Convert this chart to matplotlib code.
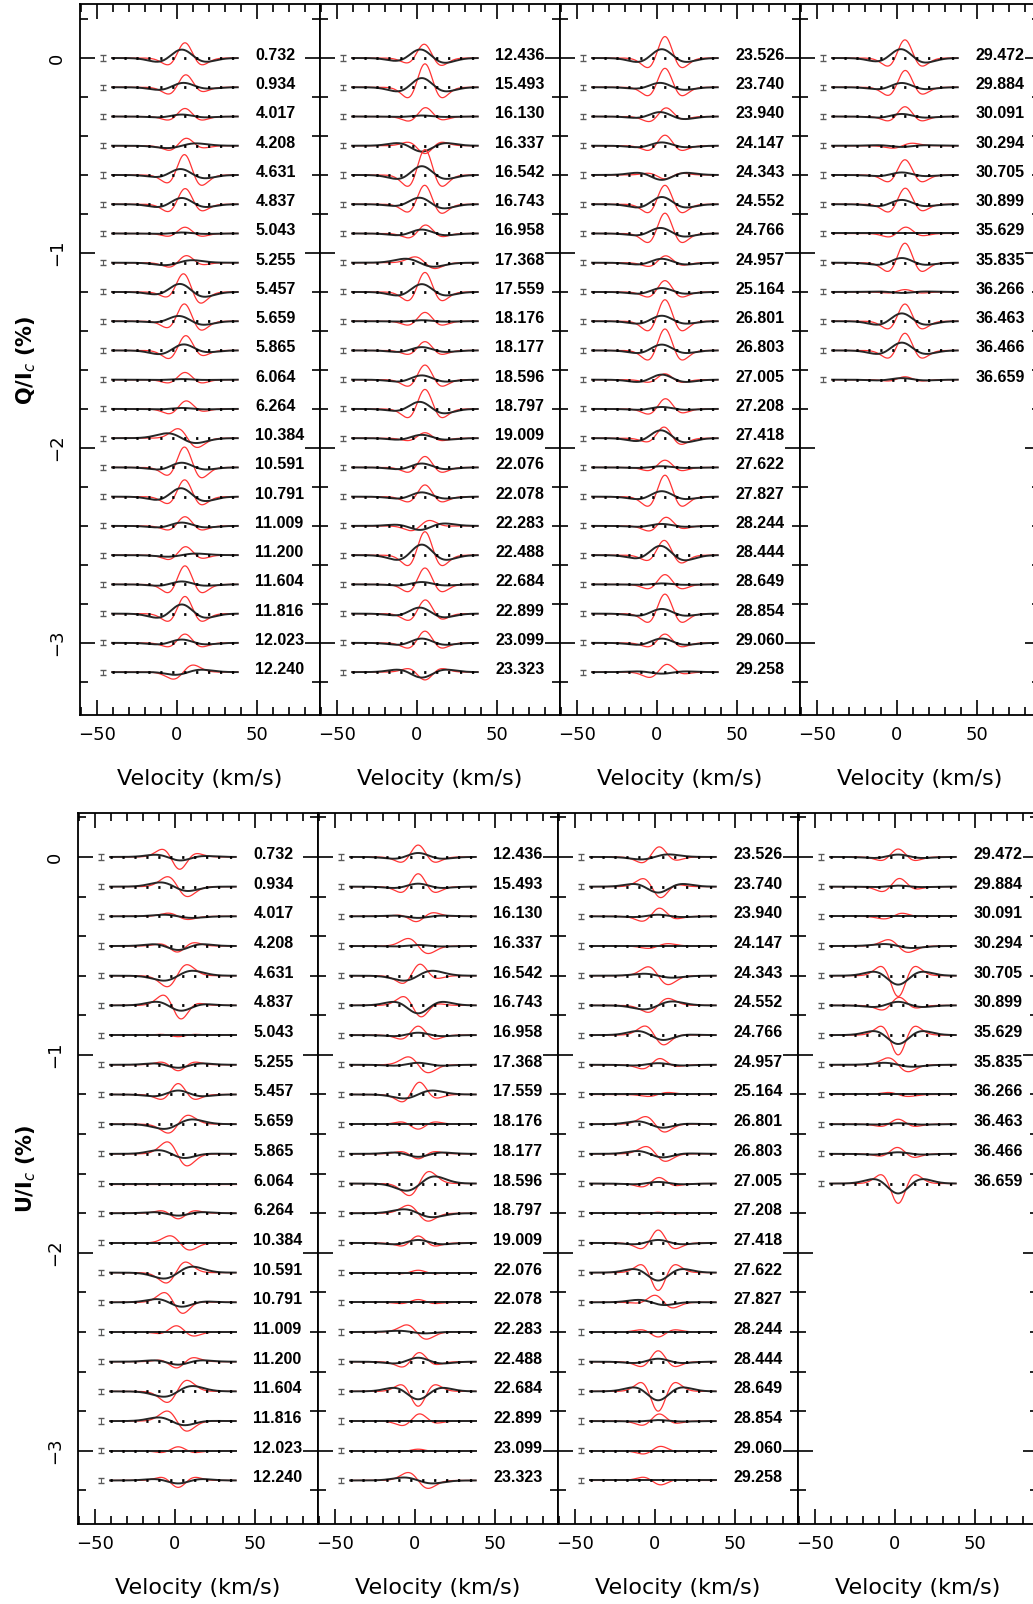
import matplotlib.pyplot as plt
import numpy as np
from matplotlib.ticker import MultipleLocator

# observation dates (one label per profile), split into 4 columns
dates = [0.732, 0.934, 4.017, 4.208, 4.631, 4.837, 5.043, 5.255, 5.457, 5.659, 5.865,
         6.064, 6.264, 10.384, 10.591, 10.791, 11.009, 11.200, 11.604, 11.816, 12.023, 12.240,
         12.436, 15.493, 16.130, 16.337, 16.542, 16.743, 16.958, 17.368, 17.559, 18.176, 18.177,
         18.596, 18.797, 19.009, 22.076, 22.078, 22.283, 22.488, 22.684, 22.899, 23.099, 23.323,
         23.526, 23.740, 23.940, 24.147, 24.343, 24.552, 24.766, 24.957, 25.164, 26.801, 26.803,
         27.005, 27.208, 27.418, 27.622, 27.827, 28.244, 28.444, 28.649, 28.854, 29.060, 29.258,
         29.472, 29.884, 30.091, 30.294, 30.705, 30.899, 35.629, 35.835, 36.266, 36.463, 36.466,
         36.659]
col_sizes = [22, 22, 22, 12]

# Stokes Q: amplitudes (%) of symmetric / antisymmetric parts, model (red) and observed (black)
q_mod_sym = [0.078, 0.063, 0.041, 0.037, 0.104, 0.080, 0.032, 0.035, 0.090, 0.088, 0.075,
             0.037, 0.040, 0.020, 0.104, 0.086, 0.047, 0.043, 0.095, 0.088, 0.045, 0.010,
             0.070, 0.120, 0.045, -0.040, 0.130, 0.097, 0.043, 0.000, 0.100, 0.045, 0.045,
             0.075, 0.100, 0.028, 0.056, 0.060, 0.020, 0.120, 0.084, 0.070, 0.060, -0.040,
             0.110, 0.097, 0.043, 0.054, -0.020, 0.097, 0.104, 0.035, 0.058, 0.110, 0.110,
             0.030, 0.052, 0.056, 0.037, 0.110, 0.043, 0.075, 0.050, 0.100, 0.045, 0.037,
             0.093, 0.086, 0.050, 0.005, 0.078, 0.082, 0.032, 0.100, 0.012, 0.088, 0.088, 0.015]
q_mod_asym = [0.0, -0.010, 0.0, -0.010, 0.010, -0.003, 0.0, -0.010, 0.025, 0.010, -0.012,
              0.0, -0.010, 0.045, 0.010, 0.005, 0.0, -0.005, 0.0, 0.0, 0.0, -0.035,
              0.010, 0.0, -0.005, 0.0, 0.0, 0.005, -0.005, 0.030, 0.0, 0.0, 0.0,
              0.0, 0.0, 0.0, 0.0, 0.0, -0.020, 0.0, 0.0, -0.005, 0.0, 0.0,
              0.0, 0.0, -0.010, 0.0, 0.0, 0.0, 0.0, -0.005, 0.0, 0.0, 0.0,
              0.0, -0.005, 0.010, 0.0, 0.0, -0.010, 0.010, 0.0, 0.0, 0.0, -0.015,
              0.0, -0.005, 0.0, -0.012, 0.0, -0.005, -0.005, 0.0, 0.0, 0.0, 0.0, 0.0]
q_obs_sym = [0.043, 0.022, 0.010, 0.000, 0.030, 0.032, 0.005, 0.005, 0.040, 0.025, 0.030,
             0.003, 0.005, 0.000, 0.024, 0.043, 0.017, 0.000, 0.015, 0.047, 0.017, -0.010,
             0.043, 0.047, 0.005, -0.030, 0.045, 0.032, 0.020, -0.005, 0.040, 0.005, 0.017,
             0.022, 0.035, 0.017, 0.020, 0.022, -0.020, 0.054, 0.012, 0.030, 0.022, -0.028,
             0.045, 0.022, 0.022, 0.017, -0.025, 0.037, 0.028, 0.020, 0.020, 0.028, 0.030,
             0.026, 0.010, 0.040, 0.006, 0.028, 0.010, 0.047, 0.005, 0.024, 0.022, -0.008,
             0.045, 0.022, 0.013, -0.006, 0.013, 0.022, 0.000, 0.024, -0.005, 0.040, 0.040, 0.008]
q_obs_asym = [0.0, -0.005, 0.0, -0.012, 0.005, 0.0, 0.0, -0.012, 0.010, 0.010, -0.008,
              0.0, 0.0, 0.025, 0.0, 0.005, 0.0, -0.008, 0.0, 0.0, 0.0, -0.010,
              0.008, 0.0, 0.0, 0.0, 0.0, 0.010, 0.0, 0.020, 0.0, 0.0, 0.0,
              0.0, 0.010, 0.0, 0.0, 0.0, -0.005, 0.0, 0.0, 0.008, 0.0, 0.0,
              0.0, 0.005, 0.005, 0.0, 0.0, 0.0, 0.005, 0.0, 0.0, 0.0, 0.0,
              0.0, 0.0, 0.005, 0.0, 0.0, 0.0, 0.008, 0.0, 0.0, 0.0, 0.0,
              0.005, 0.0, 0.0, 0.0, 0.0, 0.0, 0.0, 0.0, 0.0, 0.0, 0.0, 0.0]

# Stokes U
u_mod_sym = [-0.060, -0.005, 0.000, -0.030, 0.010, -0.060, -0.008, -0.030, 0.055, 0.000, -0.010,
             0.000, -0.028, 0.010, 0.020, -0.040, 0.030, -0.030, 0.010, -0.010, 0.020, -0.035,
             0.060, 0.065, -0.025, 0.000, 0.055, -0.050, 0.045, 0.000, 0.060, -0.025, -0.025,
             -0.010, 0.000, 0.035, 0.012, 0.014, -0.010, 0.045, -0.075, 0.035, 0.008, 0.000,
             0.050, -0.050, 0.040, 0.000, 0.000, 0.000, -0.030, 0.030, 0.000, -0.020, -0.015,
             0.030, 0.005, 0.065, -0.090, 0.030, -0.025, 0.055, -0.100, 0.035, 0.020, -0.020,
             0.040, 0.040, 0.012, 0.000, -0.105, 0.040, -0.100, 0.000, 0.000, 0.025, 0.032, -0.100]
u_mod_asym = [0.017, 0.050, 0.016, -0.005, -0.055, 0.034, 0.0, 0.0, 0.0, -0.045, 0.060,
              0.0, 0.0, 0.035, -0.050, 0.040, 0.010, -0.010, -0.055, 0.050, 0.0, 0.0,
              0.0, 0.0, -0.010, 0.038, -0.020, 0.030, 0.0, 0.040, -0.015, 0.0, 0.0,
              -0.060, 0.040, 0.0, 0.0, 0.0, 0.035, -0.010, 0.0, -0.010, 0.0, 0.040,
              -0.010, 0.025, -0.010, -0.012, 0.045, -0.035, 0.040, -0.010, -0.010, 0.035, 0.035,
              -0.005, 0.0, 0.0, 0.0, 0.020, 0.0, 0.0, 0.0, -0.008, -0.010, 0.010,
              0.0, -0.010, -0.010, 0.032, 0.0, -0.008, 0.0, 0.035, 0.010, 0.0, 0.005, 0.0]
u_obs_sym = [-0.017, -0.010, 0.0, -0.020, 0.0, -0.025, 0.0, -0.015, 0.020, 0.0, -0.015,
             0.0, -0.012, 0.0, 0.0, -0.020, 0.0, -0.015, 0.0, -0.015, 0.0, -0.015,
             0.020, 0.015, -0.008, 0.005, 0.0, -0.040, 0.012, 0.010, 0.0, 0.0, -0.015,
             -0.010, 0.0, 0.015, 0.0, 0.0, -0.005, 0.020, -0.040, 0.0, 0.0, 0.0,
             0.005, -0.030, 0.008, 0.0, 0.0, 0.0, -0.020, 0.008, 0.0, -0.015, -0.015,
             0.008, 0.0, 0.015, -0.040, -0.010, 0.0, 0.015, -0.045, 0.005, 0.0, 0.0,
             0.012, 0.005, 0.0, 0.0, -0.045, 0.018, -0.045, 0.0, 0.0, 0.005, 0.008, -0.050]
u_obs_asym = [0.005, 0.020, 0.008, 0.0, -0.025, 0.010, 0.0, 0.0, 0.0, -0.024, 0.015,
              0.0, 0.0, 0.0, -0.030, 0.010, 0.0, 0.0, -0.027, 0.015, 0.0, 0.0,
              0.0, 0.0, 0.0, 0.0, -0.025, 0.0, 0.0, 0.0, -0.020, 0.0, 0.0,
              -0.035, 0.020, 0.0, 0.0, 0.0, 0.005, 0.0, 0.0, 0.0, 0.0, 0.015,
              -0.012, 0.0, 0.0, 0.0, 0.010, -0.020, 0.015, 0.0, 0.0, 0.010, 0.010,
              0.0, 0.0, 0.0, 0.0, 0.010, 0.0, 0.0, 0.0, 0.0, 0.0, 0.0,
              0.0, 0.0, 0.0, 0.010, 0.0, 0.0, 0.0, 0.010, 0.0, 0.0, 0.0, 0.0]

step = 0.15
vel = np.linspace(-40.5, 38, 300)


def mexhat(v, c, w):
    u = (v - c) / w
    return (1 - u ** 2) * np.exp(-u ** 2 / 2)


def dgauss(v, c, w):
    u = (v - c) / w
    return -u * np.exp((1 - u ** 2) / 2)


fig = plt.figure(figsize=(10.33, 16.04), dpi=100)
W, H = 1033.0, 1604.0

panels = [
    # name, arrays, left px, top px, ylim, model centre, obs centre
    ('Q', q_mod_sym, q_mod_asym, q_obs_sym, q_obs_asym, 80, 4, (-3.37, 0.277), 5.0, 3.0),
    ('U', u_mod_sym, u_mod_asym, u_obs_sym, u_obs_asym, 78, 813, (-3.37, 0.222), 2.0, 2.0),
]

for name, msym, masym, osym, oasym, left, top, ylim, cm, co in panels:
    start = 0
    for col, n in enumerate(col_sizes):
        ax = fig.add_axes([(left + 240 * col) / W, 1 - (top + 711) / H, 240 / W, 711 / H])
        for i in range(n):
            k = start + i
            off = -step * i
            red = msym[k] * mexhat(vel, cm, 6.3) + masym[k] * dgauss(vel, cm, 6.3)
            blk = osym[k] * mexhat(vel, co, 9.0) + oasym[k] * dgauss(vel, co, 9.0)
            ax.plot(vel, off + red, color='#ff3535', lw=0.9)
            ax.plot(vel, off + blk, color='0.15', lw=1.4)
            ax.plot([vel[0], vel[-1]], [off, off], color='k', lw=2.0, ls=(0, (0.8, 3.5)))
            ax.errorbar(-46, off, yerr=0.013, fmt='none', ecolor='0.35', elinewidth=0.8, capsize=2)
            ax.text(49, off - 0.01, '%.3f' % dates[k], ha='left', va='baseline', fontsize=11.5,
                    family='Liberation Sans', weight='bold')
        start += n

        ax.set_xlim(-60.6, 89.4)
        ax.set_ylim(*ylim)
        ax.xaxis.set_major_locator(MultipleLocator(50))
        ax.xaxis.set_minor_locator(MultipleLocator(10))
        ax.yaxis.set_major_locator(MultipleLocator(1))
        ax.yaxis.set_minor_locator(MultipleLocator(0.2))
        ax.tick_params(which='both', direction='in', top=True, right=True, width=1.2)
        ax.tick_params(which='major', length=11)
        ax.tick_params(which='minor', length=6)
        ax.tick_params(axis='x', labelsize=13, pad=8)
        for s in ax.spines.values():
            s.set_linewidth(1.3)
        ax.set_xlabel('Velocity (km/s)', fontsize=16, labelpad=18)
        if col == 0:
            ax.tick_params(axis='y', labelsize=13, pad=10)
            for t in ax.get_yticklabels():
                t.set_rotation(90)
                t.set_va('center')
        else:
            ax.set_yticklabels([])

    fig.text(26 / W, 1 - (top + 356) / H, name + '/I$_c$ (%)', rotation=90,
             ha='center', va='center', fontsize=15, weight='bold')

plt.savefig('out.png', dpi=100)
